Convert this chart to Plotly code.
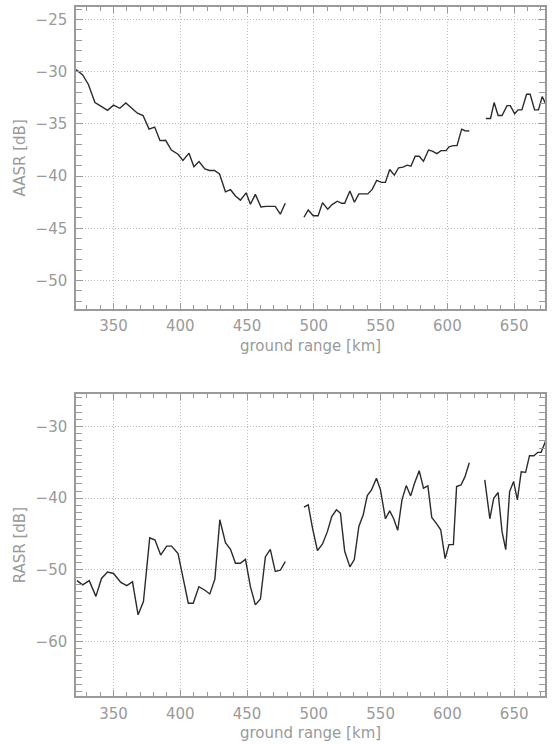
import plotly.graph_objects as go

# ---------------- data ----------------
# AASR, three swath segments
aasr_x1 = [321.9, 326.9, 331.1, 336.1, 340.5, 345.5, 350.0, 354.7, 359.2, 363.5, 367.9, 372.1,
           376.6, 380.8, 384.8, 389.0, 393.3, 398.3, 402.0, 406.5, 410.2, 414.0, 418.4, 421.9,
           425.6, 429.4, 433.8, 437.6, 441.3, 445.0, 449.3, 452.5, 456.2, 460.4, 464.2, 471.1,
           474.9, 478.6]
aasr_y1 = [-29.8, -30.3, -31.2, -32.95, -33.3, -33.7, -33.2, -33.5, -33.0, -33.5, -33.97, -34.2,
           -35.5, -35.3, -36.6, -36.57, -37.5, -37.9, -38.5, -37.8, -39.1, -38.6, -39.3, -39.46,
           -39.46, -39.8, -41.5, -41.3, -41.9, -42.3, -41.6, -42.7, -41.75, -42.95, -42.9, -42.9,
           -43.65, -42.6]
aasr_x2 = [492.6, 495.8, 499.5, 503.2, 506.5, 510.4, 513.9, 517.6, 520.8, 523.1, 527.0, 530.4,
           533.7, 540.4, 543.7, 547.1, 550.6, 553.6, 556.8, 560.3, 563.5, 566.7, 570.0, 572.7,
           575.9, 578.9, 582.1, 585.9, 588.8, 592.1, 595.3, 599.0, 601.2, 604.5, 607.2, 610.7,
           613.2, 616.4]
aasr_y2 = [-43.94, -43.24, -43.8, -43.8, -42.54, -43.17, -42.7, -42.4, -42.6, -42.6, -41.43, -42.5,
           -41.7, -41.7, -41.27, -40.4, -40.6, -40.6, -39.37, -39.9, -39.2, -39.14, -38.95, -39.05,
           -38.1, -38.1, -38.57, -37.5, -37.6, -37.84, -37.56, -37.56, -37.2, -37.08, -37.08, -35.5,
           -35.65, -35.68]
aasr_x3 = [628.8, 632.3, 635.0, 638.0, 640.9, 644.7, 647.1, 650.4, 652.9, 655.8, 659.3, 662.0,
           665.3, 668.2, 671.0, 674.0]
aasr_y3 = [-34.48, -34.48, -32.95, -34.2, -34.2, -33.25, -33.25, -34.03, -33.65, -33.65, -32.16,
           -32.16, -33.65, -33.65, -32.38, -33.17]

# RASR, three swath segments
rasr_x1 = [322.6, 326.9, 331.8, 336.8, 341.0, 345.5, 350.0, 355.5, 360.0, 364.2, 368.4, 372.4,
           377.1, 381.1, 385.3, 389.8, 393.5, 398.3, 402.0, 406.0, 409.7, 413.9, 418.2, 422.1,
           425.9, 429.6, 433.8, 437.6, 441.3, 445.0, 448.8, 452.5, 456.2, 460.0, 463.7, 467.4,
           471.1, 474.9, 478.6]
rasr_y1 = [-51.5, -52.1, -51.5, -53.7, -51.2, -50.3, -50.5, -51.75, -52.2, -51.66, -56.27, -54.42,
           -45.53, -45.85, -47.93, -46.68, -46.68, -47.74, -51.06, -54.65, -54.65, -52.35, -52.81,
           -53.36, -51.29, -43.0, -46.22, -47.14, -49.08, -49.08, -48.53, -52.35, -54.88, -54.06,
           -48.2, -47.14, -50.23, -50.05, -48.85]
rasr_x2 = [492.6, 495.8, 499.0, 502.7, 506.5, 510.2, 513.4, 516.9, 519.9, 523.1, 527.0, 530.3,
           533.7, 537.0, 540.0, 543.2, 546.9, 549.9, 553.6, 556.8, 559.8, 562.8, 566.0, 569.2,
           572.5, 575.4, 578.9, 582.1, 585.4, 588.3, 591.6, 595.0, 598.3, 601.2, 604.5, 606.9,
           610.2, 613.2, 616.4]
rasr_y2 = [-41.25, -40.93, -44.17, -47.31, -46.39, -44.63, -42.55, -41.62, -42.08, -47.4, -49.58,
           -48.56, -43.94, -42.3, -39.63, -38.84, -37.22, -38.84, -42.87, -41.76, -42.87, -44.49,
           -40.23, -38.24, -39.68, -37.92, -36.16, -38.61, -38.29, -42.69, -43.47, -44.4, -48.43,
           -46.48, -46.48, -38.38, -38.15, -36.99, -35.05]
rasr_x3 = [628.0, 631.8, 634.7, 638.0, 640.9, 643.7, 646.6, 649.6, 652.4, 655.3, 658.6, 661.5,
           664.8, 667.7, 670.2, 673.5]
rasr_y3 = [-37.45, -42.87, -40.0, -39.2, -44.63, -47.18, -39.07, -37.68, -40.23, -36.3, -36.39,
           -34.07, -34.07, -33.6, -33.6, -32.04]

x_label = "ground range [km]"
y1_label = "AASR [dB]"
y2_label = "RASR [dB]"

# ---------------- figure ----------------
LINE = dict(color="#2b2b2b", width=1.4)
fig = go.Figure()
for xs, ys in [(aasr_x1, aasr_y1), (aasr_x2, aasr_y2), (aasr_x3, aasr_y3)]:
    fig.add_trace(go.Scatter(x=xs, y=ys, mode="lines", line=LINE, xaxis="x", yaxis="y",
                             showlegend=False))
for xs, ys in [(rasr_x1, rasr_y1), (rasr_x2, rasr_y2), (rasr_x3, rasr_y3)]:
    fig.add_trace(go.Scatter(x=xs, y=ys, mode="lines", line=LINE, xaxis="x2", yaxis="y2",
                             showlegend=False))

AX_COL = "#9a9a9a"
FONT = dict(family="DejaVu Sans", size=15, color="#9a9a9a")
GRID = dict(showgrid=True, gridcolor="#bdbdbd", griddash="1px,2px", gridwidth=1)


def xaxis(domain_anchor):
    return dict(
        range=[321.9, 673.1], dtick=50, tick0=0, anchor=domain_anchor,
        ticks="inside", ticklen=6, tickcolor=AX_COL, tickwidth=1,
        minor=dict(dtick=10, tick0=0, ticks="inside", ticklen=4, tickcolor=AX_COL, showgrid=False),
        showline=True, linecolor=AX_COL, linewidth=1.5, mirror="allticks",
        tickfont=FONT, zeroline=False, ticklabelstandoff=3,
        title=dict(text=x_label, font=FONT, standoff=6), **GRID)


def yaxis(domain, rng, dtick, title, anchor):
    return dict(
        domain=domain, range=rng, dtick=dtick, tick0=0, anchor=anchor,
        ticks="inside", ticklen=7, tickcolor=AX_COL, tickwidth=1,
        minor=dict(dtick=1, tick0=0, ticks="inside", ticklen=6, tickcolor=AX_COL, showgrid=False),
        showline=True, linecolor=AX_COL, linewidth=1.5, mirror="allticks",
        tickfont=FONT, zeroline=False, ticklabelstandoff=4,
        title=dict(text=title, font=FONT, standoff=6), **GRID)


fig.update_layout(
    width=552, height=744,
    margin=dict(l=76, r=5, t=7, b=45),
    paper_bgcolor="white", plot_bgcolor="white",
    xaxis=xaxis("y"),
    yaxis=yaxis([0.5621, 1.0], [-52.7, -23.8], 5, y1_label, "x"),
    xaxis2=xaxis("y2"),
    yaxis2=yaxis([0.0, 0.4379], [-67.6, -25.5], 10, y2_label, "x2"),
    font=FONT,
)

fig.write_html("out.html")
